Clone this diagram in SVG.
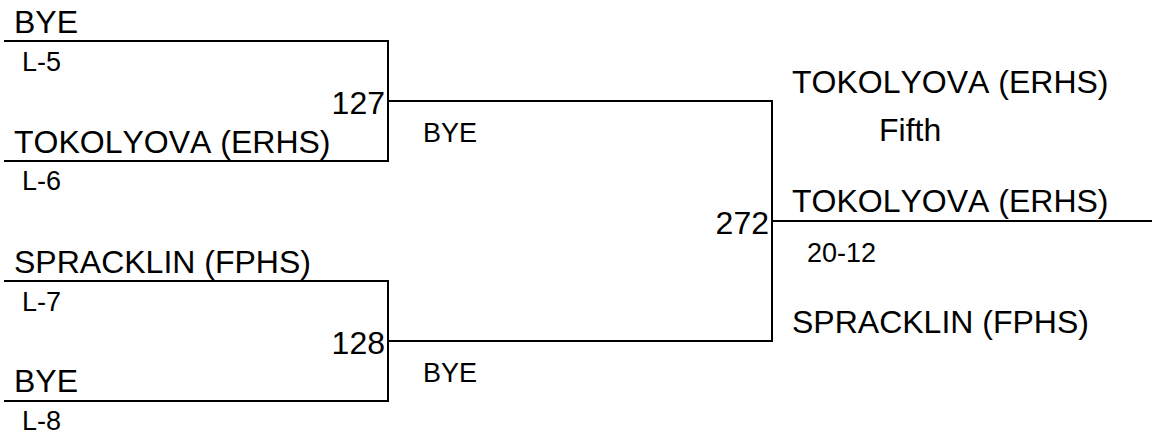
<svg xmlns="http://www.w3.org/2000/svg" width="1152" height="439" viewBox="0 0 1152 439">
<style>
.l{fill:none;stroke:#000;stroke-width:2}
.b,.s{font-family:"Liberation Sans",Arial,sans-serif;fill:#000;font-kerning:none}
.b{font-size:32px}
.s{font-size:27px}
.e{text-anchor:end}
</style>
<rect width="1152" height="439" fill="#fff"/>
<g id="connectors">
<path class="l" d="M4 41H388V161H4"/>
<path class="l" d="M4 281H388V401H4"/>
<path class="l" d="M388 101H772V341H388"/>
<path class="l" d="M772 221H1152"/>
</g>
<g id="match127">
<text class="b" x="14" y="33">BYE</text>
<text class="s" x="22" y="71">L-5</text>
<text class="b e" x="385" y="114">127</text>
<text class="b" x="14" y="153">TOKOLYOVA (ERHS)</text>
<text class="s" x="22" y="190">L-6</text>
</g>
<g id="match128">
<text class="b" x="14" y="273">SPRACKLIN (FPHS)</text>
<text class="s" x="22" y="311">L-7</text>
<text class="b e" x="385" y="354">128</text>
<text class="b" x="14" y="392">BYE</text>
<text class="s" x="22" y="430">L-8</text>
</g>
<g id="match272">
<text class="s" x="423" y="142">BYE</text>
<text class="s" x="423" y="382">BYE</text>
<text class="b e" x="769" y="234">272</text>
</g>
<g id="fifth">
<text class="b" x="792" y="93">TOKOLYOVA (ERHS)</text>
<text class="b" x="879" y="141">Fifth</text>
<text class="b" x="792" y="212">TOKOLYOVA (ERHS)</text>
<text class="s" x="807" y="262">20-12</text>
<text class="b" x="792" y="333">SPRACKLIN (FPHS)</text>
</g>
</svg>
